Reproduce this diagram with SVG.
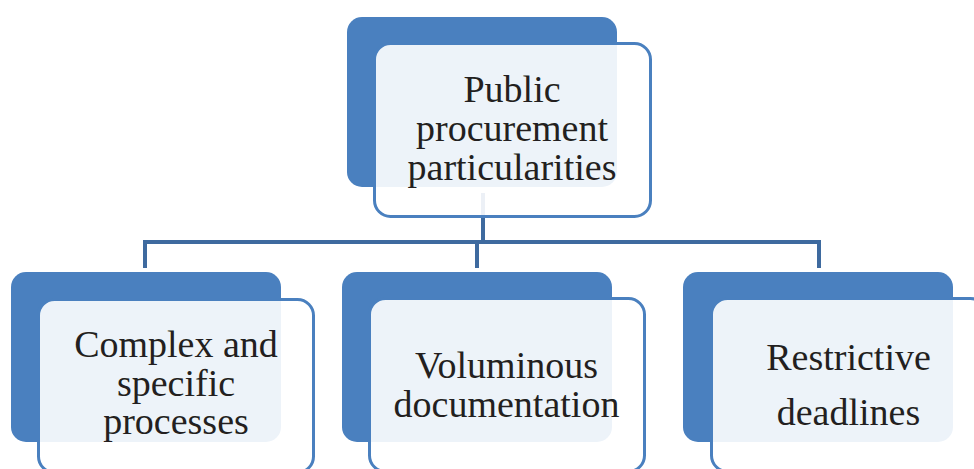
<svg xmlns="http://www.w3.org/2000/svg" width="974" height="469" viewBox="0 0 974 469">
<style>
.back{fill:#4a80bf}
.front{fill:#ffffff;fill-opacity:0.9;stroke:#4a80bf;stroke-width:3}
.lbl{font-family:"Liberation Serif","Times New Roman",serif;font-size:38px;fill:#231f20;text-anchor:middle}
.conn{fill:none;stroke:#3e6a9f;stroke-width:4}
</style>
<rect width="974" height="469" fill="#ffffff"/>
<g id="back-shapes">
<rect class="back" x="347" y="17" width="270" height="170" rx="15"/>
<rect class="back" x="11" y="272" width="270" height="170" rx="15"/>
<rect class="back" x="342" y="272" width="270" height="170" rx="15"/>
<rect class="back" x="683" y="272" width="270" height="170" rx="15"/>
</g>
<g id="connectors">
<path class="conn" d="M483 193 V242"/>
<path class="conn" d="M145 268 V242 H819 V268"/>
<path class="conn" d="M477 242 V268"/>
</g>
<g id="node-root">
<rect class="front" x="374.5" y="43.5" width="276" height="173" rx="16"/>
<text class="lbl" x="512" y="102">Public</text>
<text class="lbl" x="512" y="141">procurement</text>
<text class="lbl" x="512" y="180">particularities</text>
</g>
<g id="node-complex">
<rect class="front" x="38.5" y="299.5" width="275" height="173" rx="16"/>
<text class="lbl" x="176" y="357">Complex and</text>
<text class="lbl" x="176" y="396">specific</text>
<text class="lbl" x="176" y="434">processes</text>
</g>
<g id="node-voluminous">
<rect class="front" x="369.5" y="298.5" width="275" height="173" rx="16"/>
<text class="lbl" x="506.5" y="378">Voluminous</text>
<text class="lbl" x="506.5" y="417">documentation</text>
</g>
<g id="node-deadlines">
<rect class="front" x="711.5" y="298.5" width="275" height="173" rx="16"/>
<text class="lbl" x="848.5" y="370">Restrictive</text>
<text class="lbl" x="848.5" y="425">deadlines</text>
</g>
</svg>
